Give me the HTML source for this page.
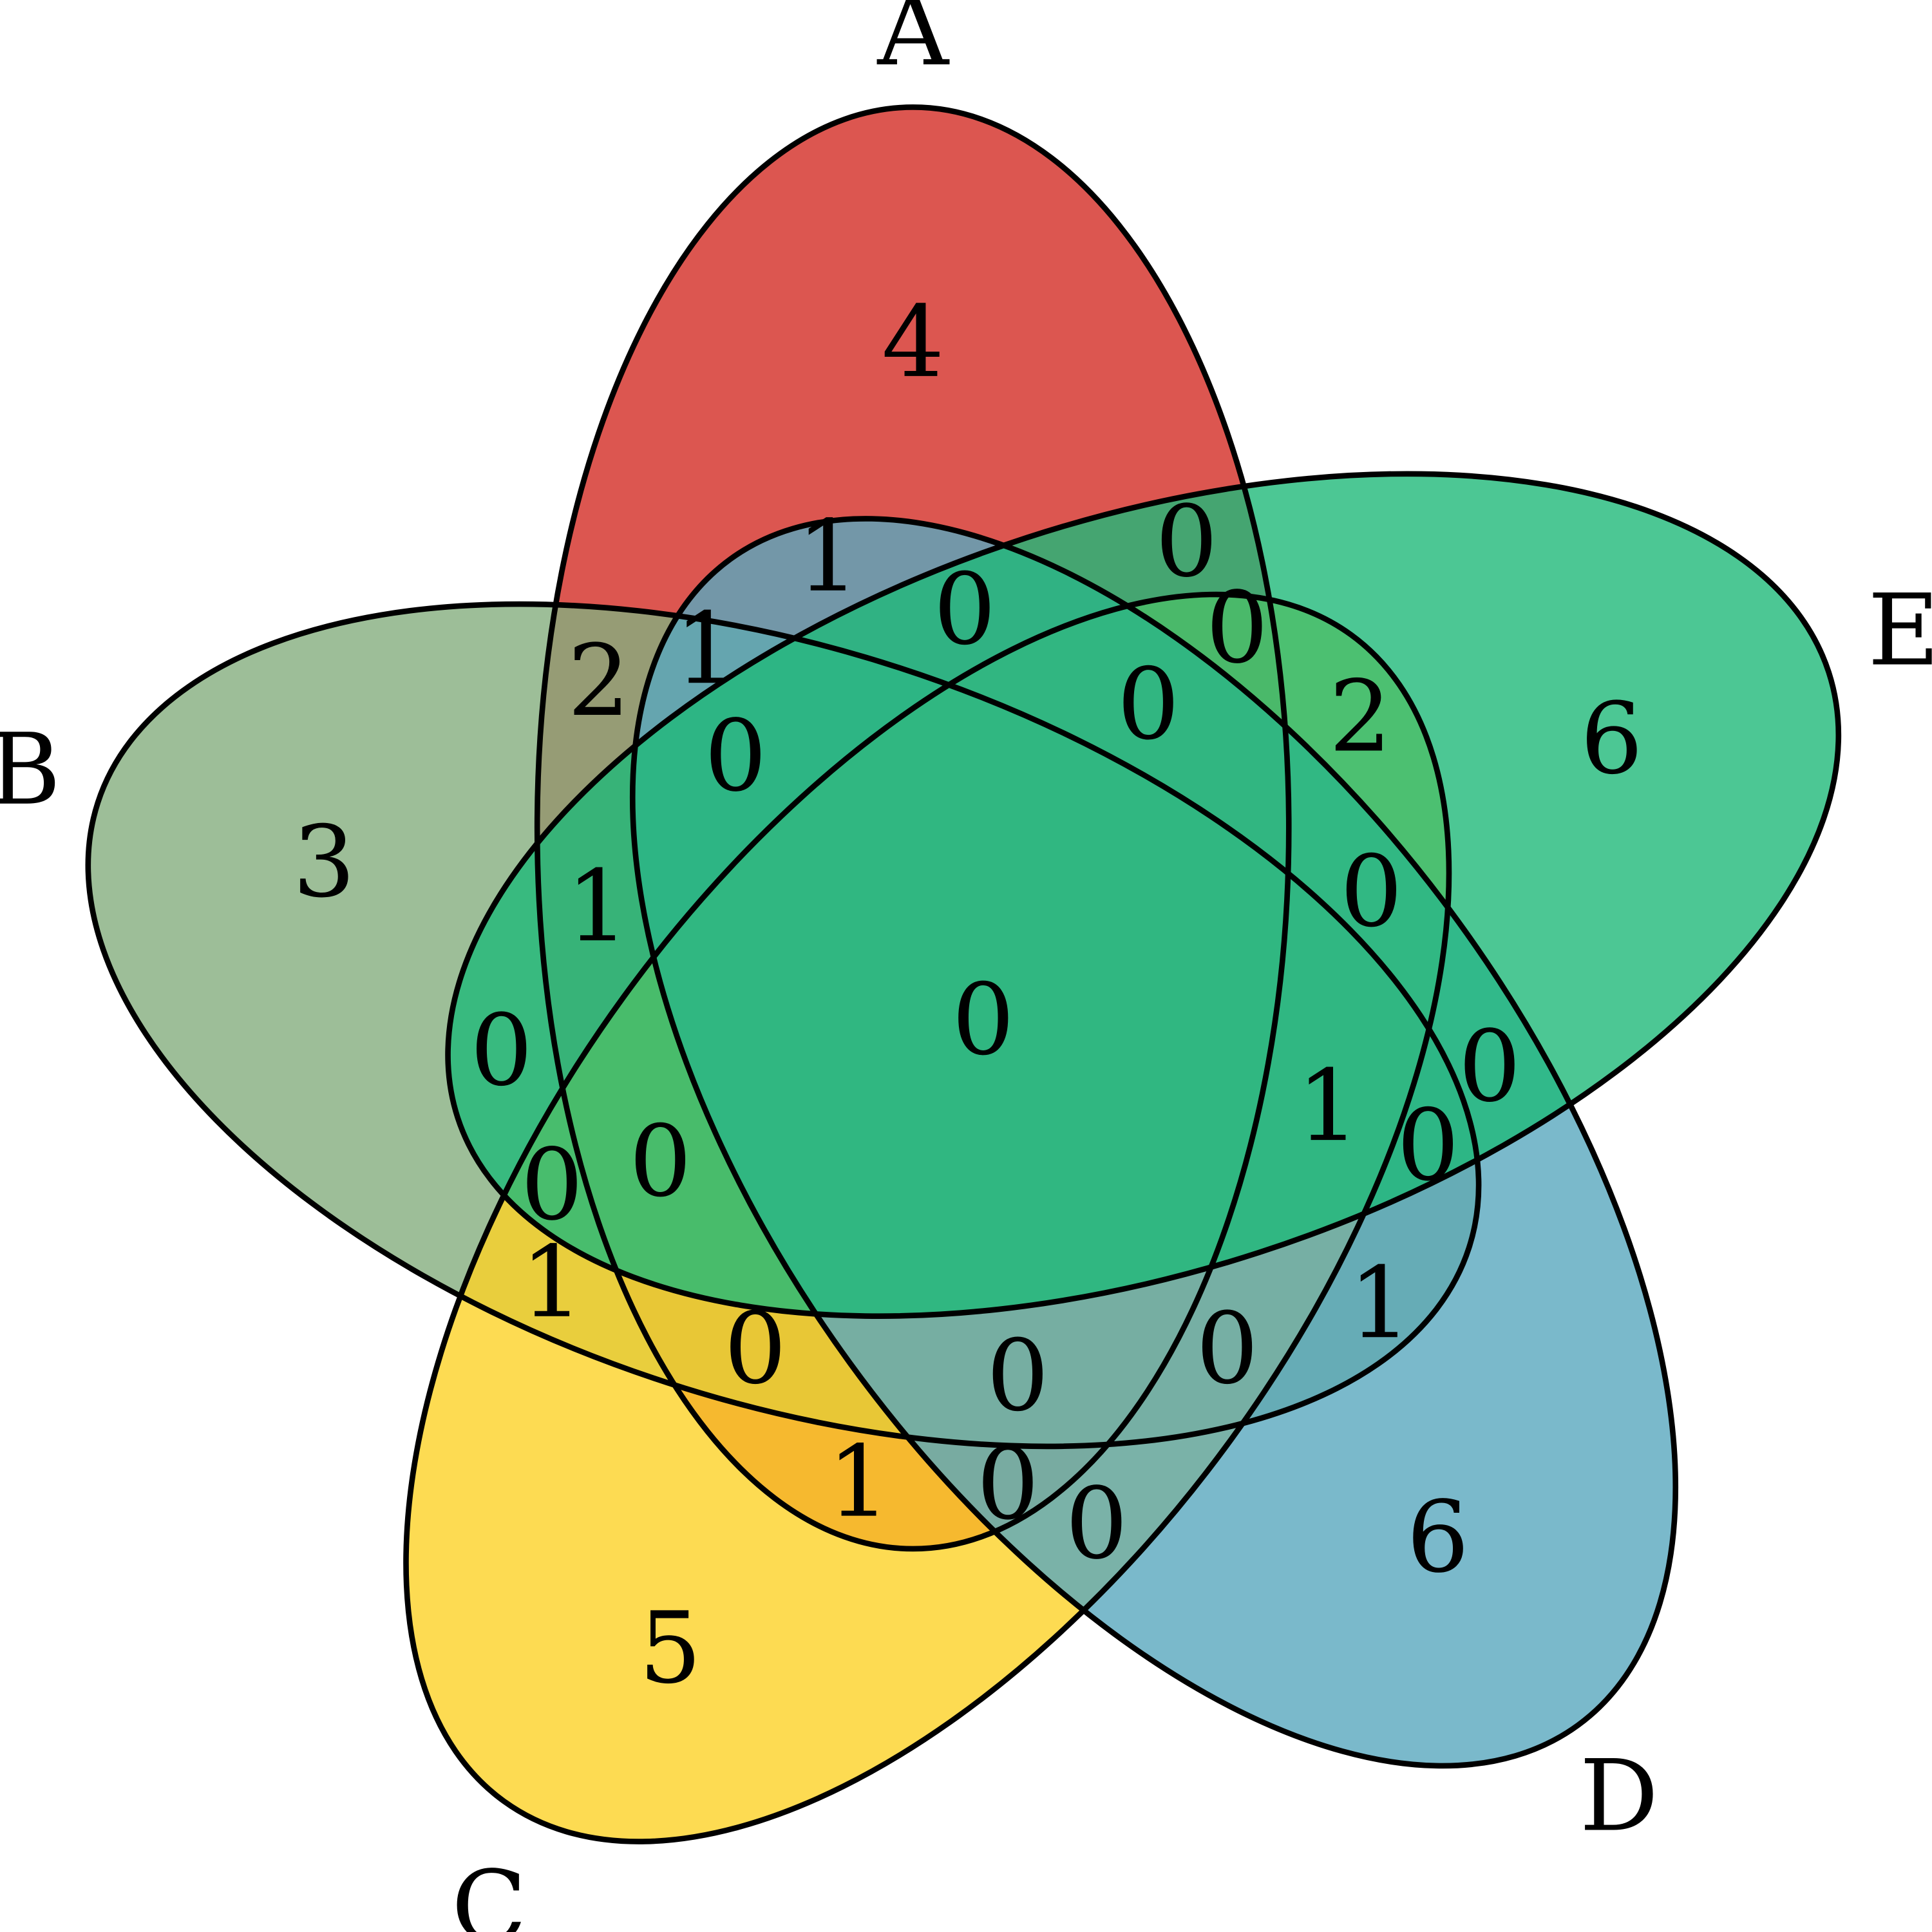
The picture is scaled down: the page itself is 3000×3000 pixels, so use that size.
<!DOCTYPE html>
<html><head><style>html,body{margin:0;padding:0;background:#fff;overflow:hidden;width:3000px;height:3000px;}svg{display:block;}</style></head>
<body>
<svg xmlns="http://www.w3.org/2000/svg" width="3000" height="3000" viewBox="0 0 1568 1568">
<defs>
<ellipse id="e" cx="741" cy="672" rx="305" ry="585"/>
</defs>
<g fill-opacity="0.8">
<use href="#e" fill="rgb(211,44,36)"/>
<use href="#e" fill="rgb(132,174,126)" transform="translate(3,3) rotate(-72 795 825)"/>
<use href="#e" fill="rgb(252,210,39)" transform="translate(4,8) rotate(-144 795 825)"/>
<use href="#e" fill="rgb(89,167,190)" transform="translate(8,10) rotate(144 795 825)"/>
<use href="#e" fill="rgb(31,185,121)" transform="translate(4,0) rotate(72 795 825)"/>
</g>
<g fill="none" stroke="#000" stroke-width="4.5">
<use href="#e"/>
<use href="#e" transform="translate(3,3) rotate(-72 795 825)"/>
<use href="#e" transform="translate(4,8) rotate(-144 795 825)"/>
<use href="#e" transform="translate(8,10) rotate(144 795 825)"/>
<use href="#e" transform="translate(4,0) rotate(72 795 825)"/>
</g>
<g font-family="'DejaVu Serif','Liberation Serif',serif" font-size="80" text-anchor="middle" dominant-baseline="central" fill="#000">
<text x="741" y="278">4</text>
<text x="672" y="452">1</text>
<text x="963" y="440">0</text>
<text x="486" y="553">2</text>
<text x="573" y="527">1</text>
<text x="783" y="495">0</text>
<text x="1004" y="510">0</text>
<text x="263" y="700">3</text>
<text x="597" y="614">0</text>
<text x="932" y="572">0</text>
<text x="1104" y="582">2</text>
<text x="1308" y="600">6</text>
<text x="485" y="736">1</text>
<text x="1113" y="724">0</text>
<text x="798" y="828">0</text>
<text x="407" y="853">0</text>
<text x="1209" y="866">0</text>
<text x="1078" y="898">1</text>
<text x="536" y="943">0</text>
<text x="448" y="962">0</text>
<text x="1159" y="930">0</text>
<text x="448" y="1041">1</text>
<text x="1120" y="1058">1</text>
<text x="613" y="1095">0</text>
<text x="826" y="1117">0</text>
<text x="996" y="1095">0</text>
<text x="697" y="1203">1</text>
<text x="818" y="1205">0</text>
<text x="890" y="1237">0</text>
<text x="1167" y="1248">6</text>
<text x="544" y="1338">5</text>
<text x="741" y="25">A</text>
<text x="20" y="625">B</text>
<text x="397" y="1548">C</text>
<text x="1314" y="1458">D</text>
<text x="1545" y="512">E</text>
</g>
</svg>
</body></html>
